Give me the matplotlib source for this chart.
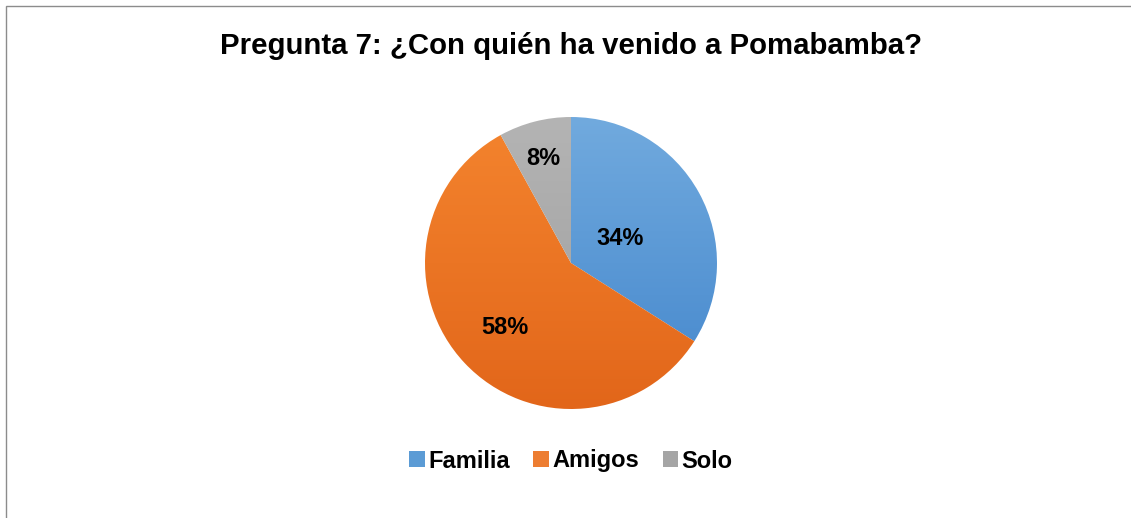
import numpy as np
import matplotlib.pyplot as plt
from matplotlib.patches import Rectangle
from matplotlib.colors import LinearSegmentedColormap

plt.rcParams['font.family'] = ['Liberation Sans', 'DejaVu Sans']

# datos de la pregunta 7
categorias = ['Familia', 'Amigos', 'Solo']
porcentajes = [34, 58, 8]
titulo = 'Pregunta 7: ¿Con quién ha venido a Pomabamba?'

# colores (claro arriba, oscuro abajo) para el degradado
colores_claro = ['#71aade', '#f4842e', '#b4b4b4']
colores_oscuro = ['#4386cc', '#e2661a', '#9d9d9d']
colores_leyenda = ['#5b9bd5', '#ed7d31', '#a5a5a5']
# distancia de cada etiqueta al centro (fraccion del radio)
dist_etiqueta = [0.38, 0.62, 0.76]

W, H = 1131, 518
fig = plt.figure(figsize=(W / 100, H / 100), dpi=100)

# marco del grafico
fig.patches.append(Rectangle((6 / W, -0.1), 1.2, (H - 6) / H + 0.1,
                             transform=fig.transFigure, fill=False,
                             edgecolor='#8c8c8c', linewidth=1.0))

# ejes cuadrados para el pastel
cx, cy, R = 571, H - 263, 146
ax = fig.add_axes([(cx - R) / W, (cy - R) / H, 2 * R / W, 2 * R / H])

wedges, _ = ax.pie(porcentajes, startangle=90, counterclock=False,
                   colors=colores_leyenda, radius=1,
                   wedgeprops=dict(linewidth=0))
ax.axis('off')

# degradado vertical recortado en cada sector
grad = np.linspace(0, 1, 256).reshape(-1, 1)
for w, c1, c2 in zip(wedges, colores_claro, colores_oscuro):
    cmap = LinearSegmentedColormap.from_list('g', [c1, c2])
    w.set_facecolor('none')
    im = ax.imshow(grad, cmap=cmap, extent=(-1, 1, -1, 1), origin='upper',
                   aspect='auto', zorder=1)
    im.set_clip_path(w)
ax.set_xlim(-1.0, 1.0)
ax.set_ylim(-1.0, 1.0)

# etiquetas de porcentaje
inicio = 90.0
for p, d in zip(porcentajes, dist_etiqueta):
    medio = np.deg2rad(inicio - p * 3.6 / 2)
    ax.text(d * np.cos(medio), d * np.sin(medio), f'{p}%',
            ha='center', va='center_baseline', fontsize=17, fontweight='bold',
            color='black', zorder=5)
    inicio -= p * 3.6

fig.text(cx / W, 1 - 46 / H, titulo, ha='center', va='center',
         fontsize=21.2, fontweight='bold')

handles = [Rectangle((0, 0), 1, 1, facecolor=c, edgecolor='none')
           for c in colores_leyenda]
fig.legend(handles, categorias, loc='center', bbox_to_anchor=(cx / W, 1 - 461 / H),
           ncol=3, frameon=False, handlelength=0.65, handleheight=0.65,
           handletextpad=0.15, columnspacing=1.0,
           prop={'weight': 'bold', 'size': 17})

fig.savefig('out.png', dpi=100)
